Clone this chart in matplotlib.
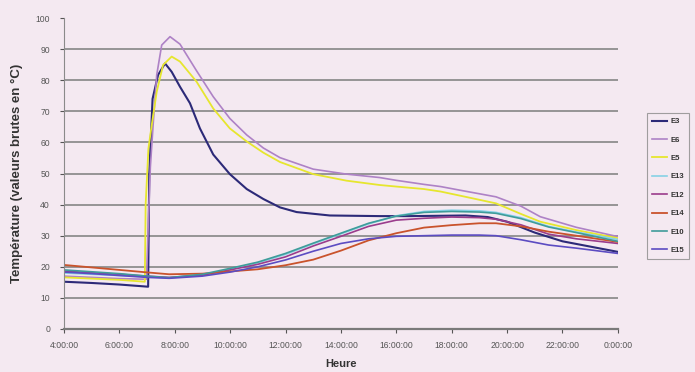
"""Températures brutes des capteurs E3..E15 sur une journée (4:00 -> 0:00)."""

import matplotlib

matplotlib.use("Agg")
import matplotlib.pyplot as plt

plt.rcParams["font.family"] = ["Liberation Sans", "DejaVu Sans"]

# heures décimales (4 = 4:00:00, 24 = 0:00:00 le lendemain)
tick_hours = [4, 6, 8, 10, 12, 14, 16, 18, 20, 22, 24]
tick_labels = ["4:00:00", "6:00:00", "8:00:00", "10:00:00", "12:00:00", "14:00:00",
               "16:00:00", "18:00:00", "20:00:00", "22:00:00", "0:00:00"]
y_ticks = [0, 10, 20, 30, 40, 50, 60, 70, 80, 90, 100]

# séries chaudes (pic vers 7:30)
e3_t = [4, 5, 6, 7.04, 7.08, 7.2, 7.4, 7.65, 7.89, 8.19, 8.55, 8.91, 9.39, 9.99, 10.6, 11.2,
        11.8, 12.4, 13.6, 15.4, 16.5, 17.5, 18.5, 19.3, 20.0, 21.0, 22.0, 23.0, 24.0]
e3_v = [15.2, 14.8, 14.3, 13.6, 50, 74, 81.7, 85.4, 82.7, 77.9, 72.6, 64.5, 56.1, 49.8, 45.0, 41.8,
        39.1, 37.6, 36.5, 36.3, 36.3, 36.4, 36.5, 36.0, 34.5, 31.0, 28.2, 26.5, 24.8]

e6_t = [4, 5, 6, 6.98, 7.05, 7.12, 7.22, 7.35, 7.53, 7.83, 8.19, 8.79, 9.39, 9.99, 10.6, 11.2,
        11.8, 13.0, 14.2, 15.4, 16.0, 17.0, 17.6, 18.5, 19.6, 20.5, 21.2, 22.5, 24.0]
e6_v = [17.0, 16.6, 16.2, 16.0, 35, 52, 65.6, 81.7, 91.3, 94.0, 91.6, 83.0, 74.7, 67.7, 62.4, 58.2,
        55.1, 51.4, 49.8, 48.7, 47.8, 46.5, 45.8, 44.3, 42.5, 39.5, 36.1, 32.7, 29.7]

e5_t = [4, 5, 6, 6.92, 6.95, 7.05, 7.17, 7.35, 7.58, 7.89, 8.19, 8.79, 9.39, 9.99, 10.6, 11.2,
        11.8, 13.0, 14.2, 15.4, 16.0, 17.0, 17.6, 18.5, 19.6, 20.5, 21.2, 22.5, 24.0]
e5_v = [16.6, 16.2, 15.8, 15.2, 40, 58, 65.6, 76.3, 84.9, 87.6, 86.0, 79.5, 70.9, 64.5, 60.3, 56.7,
        53.7, 49.8, 47.7, 46.3, 45.8, 45.0, 44.2, 42.5, 40.4, 37.0, 34.5, 31.8, 29.2]

# séries lentes (pas de choc thermique)
low_t = [4, 5, 6, 7, 7.8, 9, 10, 11, 12, 13, 14, 15, 16, 17, 18, 19, 19.6, 20.5, 21.5, 22.5, 24]
e13_v = [18.0, 17.6, 17.2, 16.8, 16.4, 17.4, 19.2, 21.3, 24.0, 27.4, 30.6, 33.8, 36.4, 37.8, 38.2,
         38.0, 37.5, 35.8, 33.0, 31.2, 28.8]
e12_v = [18.6, 18.1, 17.6, 17.0, 16.6, 17.3, 19.0, 20.8, 23.2, 26.7, 29.8, 33.0, 35.0, 35.6, 36.0,
         35.8, 35.3, 33.5, 30.5, 29.0, 27.5]
e14_v = [20.6, 19.8, 19.0, 18.2, 17.6, 17.8, 18.5, 19.2, 20.5, 22.3, 25.2, 28.5, 30.8, 32.6, 33.4,
         34.0, 34.0, 33.0, 31.3, 30.0, 28.0]
e10_v = [19.0, 18.4, 17.8, 17.0, 16.5, 17.6, 19.5, 21.5, 24.3, 27.6, 30.8, 34.0, 36.3, 37.5, 37.8,
         37.6, 37.2, 35.5, 32.8, 31.0, 28.2]
e15_v = [18.3, 17.8, 17.2, 16.6, 16.3, 17.0, 18.3, 20.0, 22.2, 25.0, 27.5, 29.0, 29.8, 30.0, 30.2,
         30.2, 30.0, 28.7, 27.0, 26.0, 24.3]

series = [
    ("E3", e3_t, e3_v, "#2c2a78", 1.5),
    ("E6", e6_t, e6_v, "#ae82c6", 1.2),
    ("E5", e5_t, e5_v, "#e6e62e", 1.3),
    ("E13", low_t, e13_v, "#86d2e6", 1.2),
    ("E12", low_t, e12_v, "#9a3c8c", 1.2),
    ("E14", low_t, e14_v, "#c9532c", 1.3),
    ("E10", low_t, e10_v, "#3f9c9a", 1.2),
    ("E15", low_t, e15_v, "#5c4cc2", 1.2),
]

bg = "#f4e9f1"
fig = plt.figure(figsize=(6.95, 3.72), dpi=100, facecolor=bg)
ax = fig.add_axes([0.092, 0.1156, 0.797, 0.836], facecolor=bg)

for name, t, v, col, lw in series:
    ax.plot(t, v, color=col, lw=lw, label=name)

ax.set_xlim(4, 24)
ax.set_ylim(0, 100)
ax.set_xticks(tick_hours)
ax.set_xticklabels(tick_labels)
ax.set_yticks(y_ticks)
ax.tick_params(labelsize=6.2, colors="#555555", length=3, width=0.8)
ax.tick_params(axis="x", pad=6)
ax.tick_params(axis="y", pad=7)

ax.grid(axis="y", color="#8e8e8e", lw=1.3)
ax.set_axisbelow(True)
ax.get_ygridlines()[-1].set_visible(False)
for s in ("top", "right"):
    ax.spines[s].set_visible(False)
ax.spines["left"].set_color("#8a8a8a")
ax.spines["bottom"].set_color("#7a7a7a")
ax.spines["bottom"].set_linewidth(1.6)

ax.set_xlabel("Heure", fontsize=8, fontweight="bold", color="#333333", labelpad=6)
ax.set_ylabel("Température (valeurs brutes en °C)", fontsize=9.5, fontweight="bold",
              color="#333333", labelpad=9)

leg = fig.legend(loc="center left", bbox_to_anchor=(0.926, 0.5), fontsize=5.5,
                 frameon=True, fancybox=False, handlelength=2.0, labelspacing=1.45,
                 borderpad=0.6, handletextpad=0.4)
leg.get_frame().set_edgecolor("#8a8a8a")
leg.get_frame().set_facecolor(bg)
leg.get_frame().set_linewidth(0.8)
for txt in leg.get_texts():
    txt.set_fontweight("bold")
    txt.set_color("#333333")

fig.savefig("out.png", dpi=100, facecolor=bg)
